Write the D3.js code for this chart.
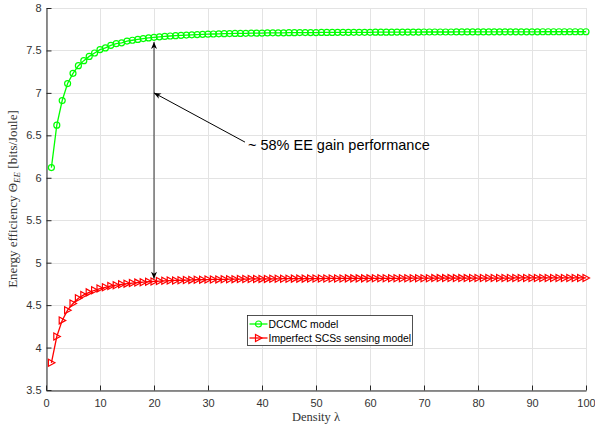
<!DOCTYPE html>
<html><head><meta charset="utf-8">
<script src="https://cdn.jsdelivr.net/npm/d3@7"></script>
<style>body{margin:0;background:#fff}svg{display:block}</style>
</head><body>
<svg id="c" width="595" height="428"></svg>
<script>
const xValues = d3.range(1, 101);
const dccmc = [
6.12, 6.62, 6.91, 7.11, 7.23, 7.32, 7.38, 7.43, 7.47, 7.51,
7.53, 7.56, 7.58, 7.59, 7.61, 7.62, 7.63, 7.64, 7.648, 7.655,
7.66, 7.665, 7.67, 7.674, 7.678, 7.681, 7.684, 7.687, 7.69, 7.692,
7.694, 7.696, 7.698, 7.699, 7.700, 7.701, 7.702, 7.703, 7.704, 7.705,
7.706, 7.707, 7.708, 7.708, 7.709, 7.709, 7.710, 7.710, 7.711, 7.711,
7.712, 7.712, 7.712, 7.713, 7.713, 7.713, 7.714, 7.714, 7.714, 7.714,
7.715, 7.715, 7.715, 7.715, 7.716, 7.716, 7.716, 7.716, 7.716, 7.717,
7.717, 7.717, 7.717, 7.717, 7.717, 7.718, 7.718, 7.718, 7.718, 7.718,
7.718, 7.718, 7.719, 7.719, 7.719, 7.719, 7.719, 7.719, 7.719, 7.719,
7.719, 7.72, 7.72, 7.72, 7.72, 7.72, 7.72, 7.72, 7.72, 7.72];
const imperfect = [
3.82, 4.13, 4.32, 4.44, 4.52, 4.58, 4.62, 4.65, 4.675, 4.695,
4.71, 4.725, 4.735, 4.745, 4.753, 4.76, 4.765, 4.77, 4.775, 4.779,
4.783, 4.786, 4.789, 4.791, 4.793, 4.795, 4.797, 4.799, 4.800, 4.801,
4.802, 4.803, 4.804, 4.805, 4.806, 4.807, 4.807, 4.808, 4.808, 4.809,
4.809, 4.810, 4.810, 4.811, 4.811, 4.812, 4.812, 4.812, 4.813, 4.813,
4.813, 4.814, 4.814, 4.814, 4.814, 4.815, 4.815, 4.815, 4.815, 4.815,
4.816, 4.816, 4.816, 4.816, 4.816, 4.817, 4.817, 4.817, 4.817, 4.817,
4.817, 4.818, 4.818, 4.818, 4.818, 4.818, 4.818, 4.818, 4.819, 4.819,
4.819, 4.819, 4.819, 4.819, 4.819, 4.819, 4.82, 4.82, 4.82, 4.82,
4.82, 4.82, 4.82, 4.82, 4.82, 4.82, 4.82, 4.82, 4.82, 4.82];
const seriesNames = ["DCCMC model", "Imperfect SCSs sensing model"];
const seriesColors = ["#00ff00", "#ff0000"];
const xTicks = [0,10,20,30,40,50,60,70,80,90,100];
const yTicks = [3.5,4,4.5,5,5.5,6,6.5,7,7.5,8];
const annotationText = "~ 58% EE gain performance";
const gapArrow = {x: 20, y1: 4.81, y2: 7.6};
const textArrow = {x0: 36.85, y0: 6.42, x1: 20, y1: 7.0, tx: 37.4, ty: 6.382};

const svg = d3.select("#c");
const L = 46, R = 586, T = 8, B = 390;
const x = d3.scaleLinear().domain([0,100]).range([L,R]);
const y = d3.scaleLinear().domain([3.5,8]).range([B,T]);
const axisCol = "#262626";
const sans = "'Liberation Sans', Arial, sans-serif";
const serif = "'Liberation Serif', 'Times New Roman', serif";

// grid
const g = svg.append("g");
g.selectAll(".gx").data(xTicks).enter().append("line")
  .attr("x1", d=>x(d)+0.5).attr("x2", d=>x(d)+0.5).attr("y1", T).attr("y2", B)
  .attr("stroke", "#e3e3e3").attr("stroke-width", 1);
g.selectAll(".gy").data(yTicks).enter().append("line")
  .attr("y1", d=>Math.round(y(d))+0.5).attr("y2", d=>Math.round(y(d))+0.5).attr("x1", L).attr("x2", R)
  .attr("stroke", "#e3e3e3").attr("stroke-width", 1);

// axes
const xa = svg.append("g").attr("transform", `translate(0,${B+0.5})`)
  .call(d3.axisBottom(x).tickValues(xTicks).tickSizeInner(-5).tickSizeOuter(0).tickPadding(9).tickFormat(d3.format("d")));
const ya = svg.append("g").attr("transform", `translate(${L+0.5},0)`)
  .call(d3.axisLeft(y).tickValues(yTicks).tickSizeInner(-5).tickSizeOuter(0).tickPadding(5).tickFormat(d=>String(d)));
[xa, ya].forEach(a => {
  a.select(".domain").attr("stroke", axisCol);
  a.selectAll(".tick line").attr("stroke", axisCol);
  a.selectAll(".tick text").attr("fill", "#333").attr("font-size", "11px").attr("font-family", sans);
});

// series
const line = d3.line().x((d,i)=>x(xValues[i])).y(d=>y(d));
const series = [dccmc, imperfect];
series.forEach((s, k) => {
  svg.append("path").datum(s).attr("d", line).attr("fill", "none")
    .attr("stroke", seriesColors[k]).attr("stroke-width", 1.3);
});
const tri = "M-3,-3.5L-3,3.5L3.5,0Z";
svg.append("g").selectAll("circle").data(dccmc).enter().append("circle")
  .attr("cx", (d,i)=>x(xValues[i])).attr("cy", d=>y(d)).attr("r", 3)
  .attr("fill", "none").attr("stroke", seriesColors[0]).attr("stroke-width", 1.2);
svg.append("g").selectAll("path").data(imperfect).enter().append("path")
  .attr("d", tri).attr("transform", (d,i)=>`translate(${x(xValues[i])},${y(d)})`)
  .attr("fill", "none").attr("stroke", seriesColors[1]).attr("stroke-width", 1.2);

// arrowheads
const head = (px, py, angle) => svg.append("path")
  .attr("d", "M0,0L-7,-3L-5,0L-7,3Z")
  .attr("transform", `translate(${px},${py}) rotate(${angle})`).attr("fill", "#000");
svg.append("line").attr("x1", x(gapArrow.x)).attr("x2", x(gapArrow.x))
  .attr("y1", y(gapArrow.y1)).attr("y2", y(gapArrow.y2)).attr("stroke", "#000").attr("stroke-width", 0.8);
head(x(gapArrow.x), y(gapArrow.y2), -90);
head(x(gapArrow.x), y(gapArrow.y1), 90);
svg.append("line").attr("x1", x(textArrow.x0)).attr("y1", y(textArrow.y0))
  .attr("x2", x(textArrow.x1)).attr("y2", y(textArrow.y1)).attr("stroke", "#000").attr("stroke-width", 1);
const ang = Math.atan2(y(textArrow.y1)-y(textArrow.y0), x(textArrow.x1)-x(textArrow.x0))*180/Math.PI;
head(x(textArrow.x1), y(textArrow.y1), ang);
svg.append("text").attr("x", x(textArrow.tx)).attr("y", y(textArrow.ty)).attr("dy", "0.35em")
  .attr("font-family", sans).attr("font-size", "14.5px").attr("fill", "#000").text(annotationText);

// axis titles
svg.append("text").attr("x", (L+R)/2).attr("y", 421).attr("text-anchor", "middle")
  .attr("font-family", serif).attr("font-size", "12.5px").attr("fill", "#333").text("Density λ");
const yt = svg.append("text").attr("transform", `translate(17,${(T+B)/2}) rotate(-90)`).attr("text-anchor", "middle")
  .attr("font-family", serif).attr("font-size", "13px").attr("fill", "#333");
yt.append("tspan").text("Energy efficiency Θ");
yt.append("tspan").attr("font-style", "italic").attr("font-size", "9px").attr("dy", "3").text("EE");
yt.append("tspan").attr("dy", "-3").text(" [bits/Joule]");

// legend
const lg = svg.append("g").attr("transform", "translate(247.5,315.5)");
lg.append("rect").attr("width", 165).attr("height", 30).attr("fill", "#fff").attr("stroke", axisCol).attr("stroke-width", 0.8);
seriesNames.forEach((n, k) => {
  const yy = 8.5 + k*14;
  lg.append("line").attr("x1", 2).attr("x2", 20).attr("y1", yy).attr("y2", yy)
    .attr("stroke", seriesColors[k]).attr("stroke-width", 1.3);
  if (k === 0) lg.append("circle").attr("cx", 11).attr("cy", yy).attr("r", 3).attr("fill", "none").attr("stroke", seriesColors[k]).attr("stroke-width", 1.2);
  else lg.append("path").attr("d", tri).attr("transform", `translate(11,${yy})`).attr("fill", "none").attr("stroke", seriesColors[k]).attr("stroke-width", 1.2);
  lg.append("text").attr("x", 21).attr("y", yy).attr("dy", "0.35em").attr("font-family", sans)
    .attr("font-size", "10.4px").attr("fill", "#000").text(n);
});
</script>
</body></html>
